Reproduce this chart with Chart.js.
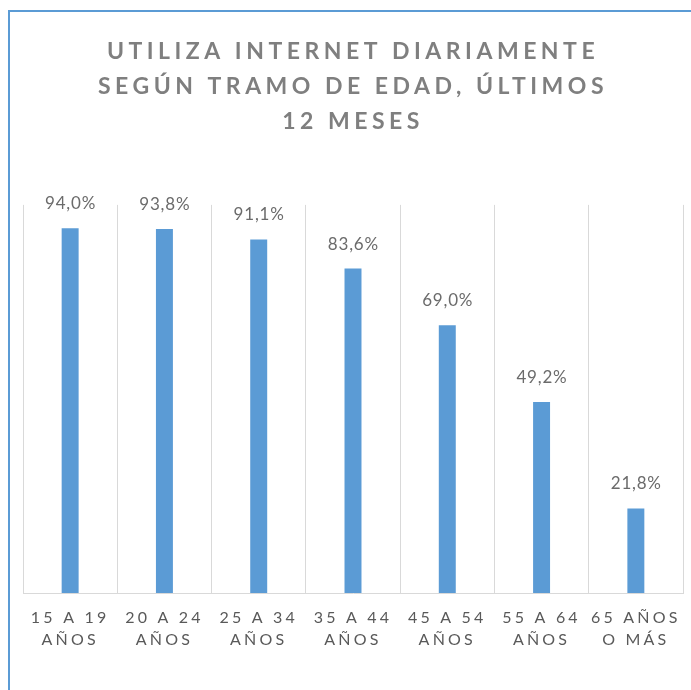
<!DOCTYPE html>
<html>
<head>
<meta charset="utf-8">
<script src="https://cdn.jsdelivr.net/npm/chart.js@4/dist/chart.umd.min.js"></script>
<style>
  html, body { margin: 0; padding: 0; background: #ffffff; overflow: hidden; }
  #wrap { position: absolute; left: 0; top: 0; width: 691px; height: 690px; }
  #frame { position: absolute; left: 8px; top: 10px; width: 720px; height: 720px;
           border-left: 2px solid #5b9bd5; border-top: 2px solid #5b9bd5; pointer-events: none; }
</style>
</head>
<body>
<div id="wrap"><canvas id="c" width="691" height="690"></canvas></div>
<div id="frame"></div>
<script>
const titleLines = ['UTILIZA INTERNET DIARIAMENTE', 'SEGÚN TRAMO DE EDAD, ÚLTIMOS', '12 MESES'];
const categories = [
  ['15 A 19', 'AÑOS'],
  ['20 A 24', 'AÑOS'],
  ['25 A 34', 'AÑOS'],
  ['35 A 44', 'AÑOS'],
  ['45 A 54', 'AÑOS'],
  ['55 A 64', 'AÑOS'],
  ['65 AÑOS', 'O MÁS']
];
const values = [94.0, 93.8, 91.1, 83.6, 69.0, 49.2, 21.8];

const TITLE_SPACING = '4.5px';
const TICK_SPACING = '3.2px';

const spacingPlugin = {
  id: 'spacing',
  beforeUpdate(chart) { chart.ctx.letterSpacing = '0px'; },
  beforeDraw(chart) { chart.ctx.letterSpacing = TITLE_SPACING; },
  afterDatasetsDraw(chart) { chart.ctx.letterSpacing = TICK_SPACING; }
};

const valueLabels = {
  id: 'valueLabels',
  afterDatasetsDraw(chart) {
    const ctx = chart.ctx;
    const meta = chart.getDatasetMeta(0);
    ctx.save();
    ctx.letterSpacing = '0.8px';
    ctx.font = '17px Lato, "Open Sans", sans-serif';
    ctx.fillStyle = '#6b6b6b';
    ctx.textAlign = 'center';
    ctx.textBaseline = 'alphabetic';
    meta.data.forEach((bar, i) => {
      const v = chart.data.datasets[0].data[i];
      const txt = v.toFixed(1).replace('.', ',') + '%';
      ctx.fillText(txt, bar.x + 0.4, bar.y - 19);
    });
    ctx.restore();
  }
};

new Chart(document.getElementById('c'), {
  type: 'bar',
  data: {
    labels: categories,
    datasets: [{
      data: values,
      backgroundColor: '#5b9bd5',
      borderWidth: 0,
      barPercentage: 0.18,
      categoryPercentage: 1.0
    }]
  },
  options: {
    responsive: false,
    animation: false,
    layout: { padding: { left: 23, right: 8, top: 0, bottom: 25 } },
    plugins: {
      legend: { display: false },
      tooltip: { enabled: false },
      title: {
        display: true,
        text: titleLines,
        color: '#7f7f7f',
        font: { family: 'Lato, "Open Sans", sans-serif', size: 23, weight: 'bold', lineHeight: 1.52 },
        padding: { top: 34, bottom: 66 }
      }
    },
    scales: {
      x: {
        offset: true,
        grid: { display: true, color: '#d9d9d9', lineWidth: 1, drawTicks: false, offset: true },
        border: { display: true, color: '#d9d9d9', width: 1 },
        ticks: {
          z: 1,
          color: '#595959',
          padding: 14,
          maxRotation: 0,
          autoSkip: false,
          font: { family: 'Lato, "Open Sans", sans-serif', size: 16, lineHeight: 1.375 }
        }
      },
      y: {
        display: false,
        min: 0,
        max: 100
      }
    }
  },
  plugins: [valueLabels, spacingPlugin]
});
</script>
</body>
</html>
